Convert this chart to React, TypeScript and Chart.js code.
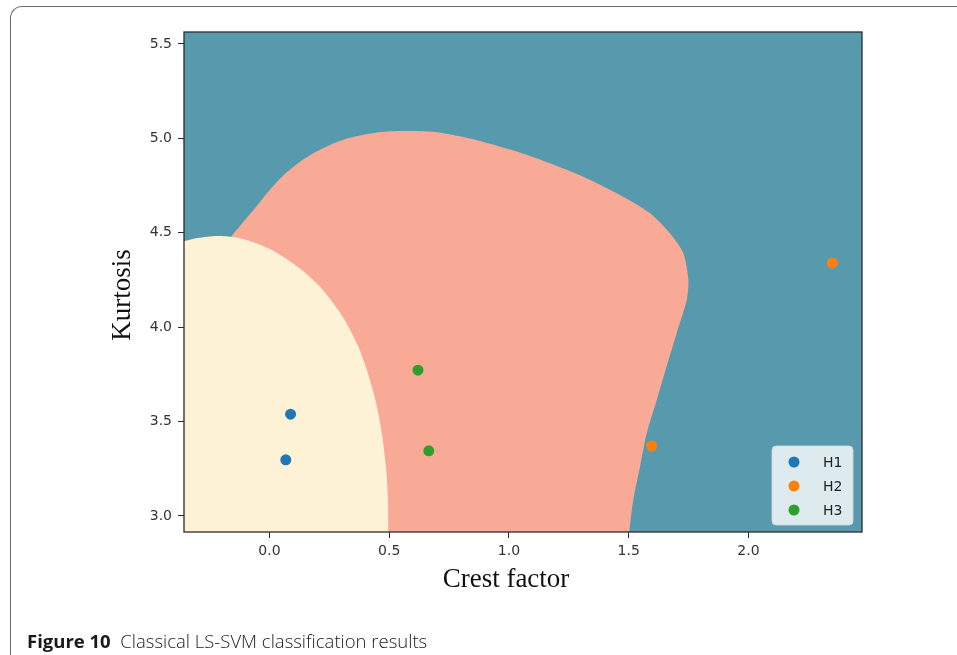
import React, { useEffect, useRef } from 'react';
import { Chart, registerables } from 'chart.js';

Chart.register(...registerables);

// ---- axes ----
const xTickValues = [0.0, 0.5, 1.0, 1.5, 2.0];
const yTickValues = [3.0, 3.5, 4.0, 4.5, 5.0, 5.5];
const xMin = -0.357;
const xMax = 2.474;
const yMin = 2.915;
const yMax = 5.563;
const xTitle = 'Crest factor';
const yTitle = 'Kurtosis';

// ---- samples ----
const seriesNames = ['H1', 'H2', 'H3'];
const h1X = [0.088, 0.068];
const h1Y = [3.539, 3.297];
const h2X = [1.596, 2.35];
const h2Y = [3.371, 4.34];
const h3X = [0.62, 0.665];
const h3Y = [3.772, 3.345];

// ---- decision regions (boundary traces) ----
// H3 region (salmon): closed outline
const h3RegionX = [-0.20, -0.158, -0.123, -0.086, -0.048, -0.010, 0.031, 0.077, 0.127, 0.186, 0.253, 0.328, 0.411, 0.503, 0.595, 0.691, 0.79, 0.893, 1.032, 1.171, 1.310, 1.450, 1.589, 1.672, 1.728, 1.749, 1.742, 1.700, 1.658, 1.617, 1.575, 1.547, 1.519, 1.502, 1.49, 0.20, -0.10];
const h3RegionY = [4.40, 4.483, 4.536, 4.592, 4.650, 4.711, 4.769, 4.825, 4.875, 4.923, 4.965, 5.000, 5.023, 5.037, 5.039, 5.034, 5.012, 4.981, 4.930, 4.868, 4.797, 4.709, 4.603, 4.497, 4.391, 4.250, 4.144, 3.968, 3.791, 3.614, 3.438, 3.261, 3.085, 2.915, 2.80, 2.80, 4.20];
// H1 region (cream): upper boundary, filled down to the axis
const h1RegionX = [-0.357, -0.30, -0.22, -0.15, -0.08, 0.00, 0.07, 0.14, 0.21, 0.27, 0.32, 0.37, 0.41, 0.445, 0.47, 0.487, 0.495, 0.497, 0.497];
const h1RegionY = [4.455, 4.472, 4.483, 4.477, 4.455, 4.415, 4.362, 4.297, 4.215, 4.120, 4.025, 3.900, 3.760, 3.600, 3.430, 3.250, 3.080, 2.915, 2.80];

const colors = {
  bg: '#579aad',
  h1Region: '#fdf1d6',
  h3Region: '#f9aa97',
  h1: '#1f77b4',
  h2: '#ff7f0e',
  h3: '#2ca02c',
  axis: '#2b2b2b',
  tick: '#333333',
};

const zip = (xs: number[], ys: number[]) => xs.map((x, i) => ({ x, y: ys[i] }));

const framePlugin = {
  id: 'frameAndExtras',
  beforeDraw(chart: any) {
    const { ctx, chartArea: a } = chart;
    ctx.save();
    ctx.fillStyle = colors.bg;
    ctx.fillRect(a.left, a.top, a.right - a.left, a.bottom - a.top);
    ctx.restore();
  },
  afterDraw(chart: any) {
    const { ctx, chartArea: a } = chart;
    ctx.save();
    // frame
    ctx.strokeStyle = colors.axis;
    ctx.lineWidth = 1.3;
    ctx.strokeRect(a.left, a.top, a.right - a.left, a.bottom - a.top);

    // axis titles
    ctx.fillStyle = '#111';
    ctx.font = '27px "Liberation Serif", "DejaVu Serif", serif';
    ctx.textAlign = 'center';
    ctx.textBaseline = 'alphabetic';
    ctx.fillText(xTitle, (a.left + a.right) / 2 - 17, a.bottom + 55);
    ctx.save();
    ctx.translate(a.left - 54, (a.top + a.bottom) / 2 + 13);
    ctx.rotate(-Math.PI / 2);
    ctx.fillText(yTitle, 0, 0);
    ctx.restore();

    // legend (inside, lower right)
    const w = 81, h = 79;
    const lx = a.right - 9 - w;
    const ly = a.bottom - 7 - h;
    ctx.beginPath();
    const r = 4;
    ctx.moveTo(lx + r, ly);
    ctx.lineTo(lx + w - r, ly);
    ctx.quadraticCurveTo(lx + w, ly, lx + w, ly + r);
    ctx.lineTo(lx + w, ly + h - r);
    ctx.quadraticCurveTo(lx + w, ly + h, lx + w - r, ly + h);
    ctx.lineTo(lx + r, ly + h);
    ctx.quadraticCurveTo(lx, ly + h, lx, ly + h - r);
    ctx.lineTo(lx, ly + r);
    ctx.quadraticCurveTo(lx, ly, lx + r, ly);
    ctx.closePath();
    ctx.fillStyle = 'rgba(255,255,255,0.8)';
    ctx.fill();
    ctx.strokeStyle = 'rgba(204,214,218,0.9)';
    ctx.lineWidth = 1;
    ctx.stroke();
    const legendColors = [colors.h1, colors.h2, colors.h3];
    ctx.font = '14px "DejaVu Sans", sans-serif';
    ctx.textAlign = 'left';
    ctx.textBaseline = 'middle';
    seriesNames.forEach((name, i) => {
      const cy = ly + 16 + i * 24;
      ctx.beginPath();
      ctx.arc(lx + 22, cy, 5.5, 0, Math.PI * 2);
      ctx.fillStyle = legendColors[i];
      ctx.fill();
      ctx.fillStyle = '#222';
      ctx.fillText(name, lx + 51, cy + 1);
    });
    ctx.restore();
  },
};

export default function App() {
  const ref = useRef<HTMLCanvasElement | null>(null);

  useEffect(() => {
    if (!ref.current) return;
    const pointStyle = (c: string) => ({
      backgroundColor: c,
      borderColor: c,
      pointRadius: 5.5,
      pointBorderWidth: 0,
      showLine: false,
    });
    const chart = new Chart(ref.current, {
      type: 'scatter',
      data: {
        datasets: [
          { label: seriesNames[0], data: zip(h1X, h1Y), order: 0, ...pointStyle(colors.h1) },
          { label: seriesNames[1], data: zip(h2X, h2Y), order: 0, ...pointStyle(colors.h2) },
          { label: seriesNames[2], data: zip(h3X, h3Y), order: 0, ...pointStyle(colors.h3) },
          {
            type: 'line',
            label: 'H1 region',
            data: zip(h1RegionX, h1RegionY),
            order: 1,
            fill: 'start',
            backgroundColor: colors.h1Region,
            borderColor: colors.h1Region,
            borderWidth: 0,
            pointRadius: 0,
            tension: 0.25,
          } as any,
          {
            type: 'line',
            label: 'H3 region',
            data: zip(h3RegionX, h3RegionY),
            order: 2,
            fill: 'shape',
            backgroundColor: colors.h3Region,
            borderColor: colors.h3Region,
            borderWidth: 0,
            pointRadius: 0,
            tension: 0.25,
          } as any,
        ],
      },
      options: {
        animation: false,
        responsive: false,
        events: [],
        layout: { padding: { left: 100, right: 95, top: 32, bottom: 53 } },
        plugins: { legend: { display: false }, tooltip: { enabled: false } },
        scales: {
          x: {
            type: 'linear',
            min: xMin,
            max: xMax,
            afterBuildTicks: (axis: any) => {
              axis.ticks = xTickValues.map((v) => ({ value: v }));
            },
            afterFit: (scale: any) => {
              scale.height = 70;
            },
            border: { display: false },
            grid: { drawOnChartArea: false, drawTicks: true, tickLength: 6, tickColor: colors.axis, tickWidth: 1 },
            ticks: {
              color: colors.tick,
              padding: 5,
              maxRotation: 0,
              font: { family: '"DejaVu Sans", sans-serif', size: 14 },
              callback: (v: any) => Number(v).toFixed(1),
            },
          },
          y: {
            type: 'linear',
            min: yMin,
            max: yMax,
            afterBuildTicks: (axis: any) => {
              axis.ticks = yTickValues.map((v) => ({ value: v }));
            },
            afterFit: (scale: any) => {
              scale.width = 84;
            },
            border: { display: false },
            grid: { drawOnChartArea: false, drawTicks: true, tickLength: 6, tickColor: colors.axis, tickWidth: 1 },
            ticks: {
              color: colors.tick,
              padding: 6,
              font: { family: '"DejaVu Sans", sans-serif', size: 14 },
              callback: (v: any) => Number(v).toFixed(1),
            },
          },
        },
      },
      plugins: [framePlugin],
    });
    return () => chart.destroy();
  }, []);

  return (
    <div style={{ position: 'fixed', left: 0, top: 0, width: 957, height: 655, overflow: 'hidden', background: '#fff' }}>
      <div
        style={{
          position: 'absolute',
          left: 10,
          top: 6,
          width: 1000,
          height: 700,
          borderLeft: '1.5px solid #6b6b6b',
          borderTop: '1.5px solid #6b6b6b',
          borderTopLeftRadius: 12,
          boxSizing: 'border-box',
        }}
      />
      <canvas ref={ref} width={957} height={655} style={{ position: 'absolute', left: 0, top: 0, display: 'block' }} />
      <div
        style={{
          position: 'absolute',
          left: 27,
          top: 632,
          fontFamily: '"Open Sans", "Noto Sans", sans-serif',
          fontSize: 18.5,
          lineHeight: '18px',
          color: '#1a1a1a',
          whiteSpace: 'nowrap',
        }}
      >
        <span style={{ fontWeight: 700 }}>Figure 10</span>
        <span style={{ fontWeight: 300 }}>{'\u00a0\u00a0'}Classical LS-SVM classification results</span>
      </div>
    </div>
  );
}
